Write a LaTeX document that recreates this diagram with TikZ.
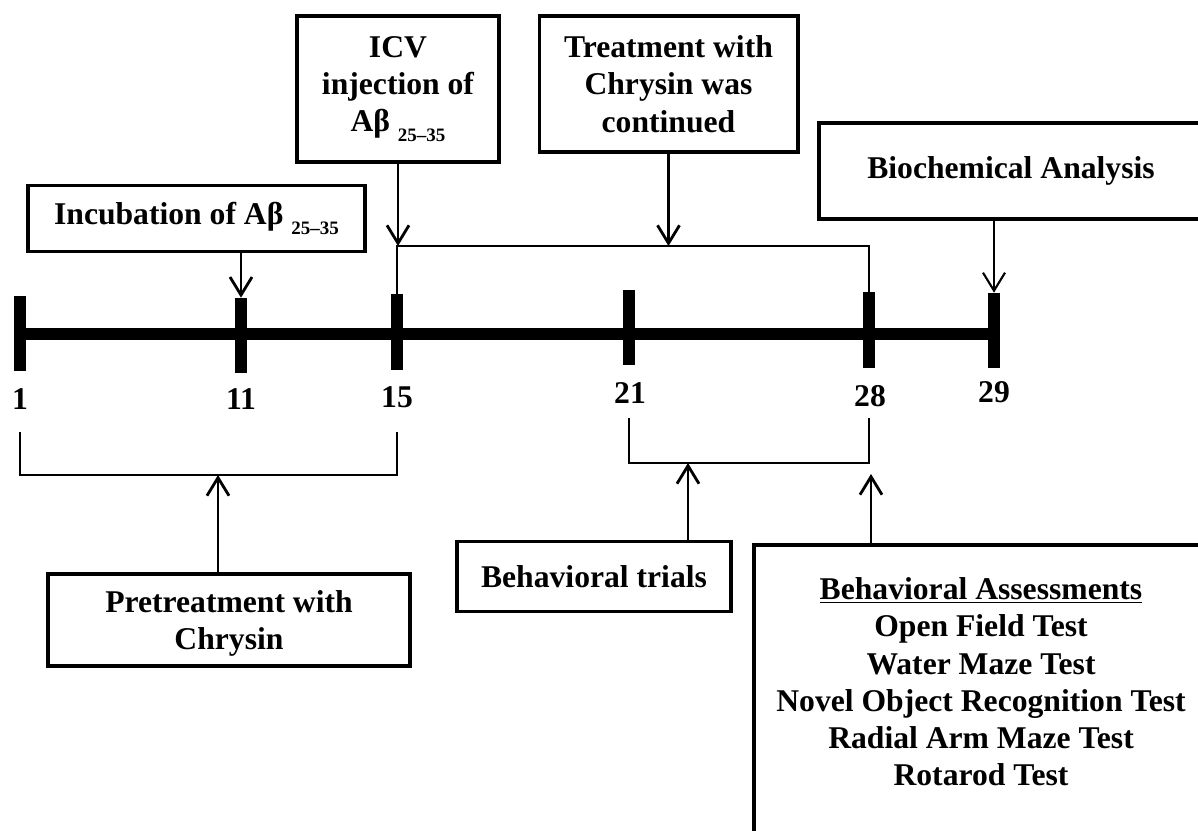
\documentclass[tikz,border=0pt]{standalone}
\usepackage{fontspec}
\setmainfont{Liberation Serif}
\usetikzlibrary{arrows.meta}
\newcommand{\abfrag}{Aβ\ \raisebox{-7pt}{\fontsize{13.5}{13.5}\selectfont 25–35}}

\begin{document}
\begin{tikzpicture}[x=0.025cm,y=-0.025cm]
			\tikzstyle{box}=[draw, line width=2.8pt, align=center, font=\bfseries\fontsize{22.5}{26.5}\selectfont]
			\tikzstyle{daytick}=[fill=black, inner sep=0pt, minimum width=0.28cm, minimum height=1.875cm]
			\tikzstyle{daylabel}=[font=\bfseries\fontsize{22.5}{26.5}\selectfont]
			\tikzset{pointer/.style = {line width=2pt, -{Straight Barb[length=4.5mm, width=5.5mm]}}}
			\tikzset{span/.style = {line width=2pt}}
			
			\clip (0,0) rectangle (1198,830);
			
			\foreach \d/\x/\y in {1/20/333.5, 11/241/335.5, 15/397/332, 21/629/327.5, 28/869/330, 29/994/330.5}
				\node[daytick](t\d) at (\x,\y) {};
			\coordinate(axis) at (0,334);
			\draw[line width=0.3cm](t1 |- axis) -- (t29 |- axis);
			\foreach \d/\x/\y in {1/20/399, 11/241/399, 15/397/397, 21/630/393, 28/870/396, 29/994/392}
				\node[daylabel](l\d) at (\x,\y) {\d};
			
			\node[box, minimum width=8.4cm, minimum height=1.65cm](incub) at (196.5,218.5) {Incubation of \abfrag};
			\draw[pointer](incub.south -| t11) -- (t11.north);
			
			\node[box, minimum width=5.05cm, minimum height=3.65cm](icv) at (398,89) {ICV\\injection of\\\abfrag};
			\node[box, minimum width=6.45cm, minimum height=3.4cm](treat) at (668.5,84) {Treatment with\\Chrysin was\\continued};
			\coordinate(treatbar) at (666,246);
			\draw[span](t15.north) |- (treatbar) -| (t28.north);
			\draw[pointer](icv.south) -- (icv.south |- treatbar);
			\draw[pointer](treat.south) -- (treat.south |- treatbar);
			
			\node[box, minimum width=9.6cm, minimum height=2.4cm](bio) at (1011,171) {Biochemical Analysis};
			\draw[pointer, line width=1.5pt](bio.south -| t29) -- (t29.north);
			
			\node[box, text depth=0pt, minimum width=9.05cm, minimum height=2.3cm](pretreat) at (229,620) {Pretreatment with\\Chrysin};
			\coordinate(prebar) at (218,475);
			\coordinate(pre1) at (20,432);
			\coordinate(pre15) at (397,432);
			\draw[span](pre1) |- (prebar) -| (pre15);
			\draw[pointer](pretreat.north -| prebar) -- (prebar);
			
			\node[box, minimum width=6.85cm, minimum height=1.75cm](trials) at (594,576.5) {Behavioral trials};
			\coordinate(behbar) at (688,463);
			\coordinate(beh21) at (629,418);
			\coordinate(beh28) at (869,418);
			\draw[span](beh21) |- (behbar) -| (beh28);
			\draw[pointer](trials.north -| behbar) -- (behbar);
			
			\node[box, anchor=north west, minimum width=11.6cm, minimum height=8cm](assess) at (752,543) {};
			\node[box, draw=none](assesslist) at (981,682) {\underline{Behavioral Assessments}\\Open Field Test\\Water Maze Test\\Novel Object Recognition Test\\Radial Arm Maze Test\\Rotarod Test};
			\coordinate(assesstip) at (871,474);
			\draw[pointer](assess.north -| assesstip) -- (assesstip);
			
\end{tikzpicture}
\end{document}
